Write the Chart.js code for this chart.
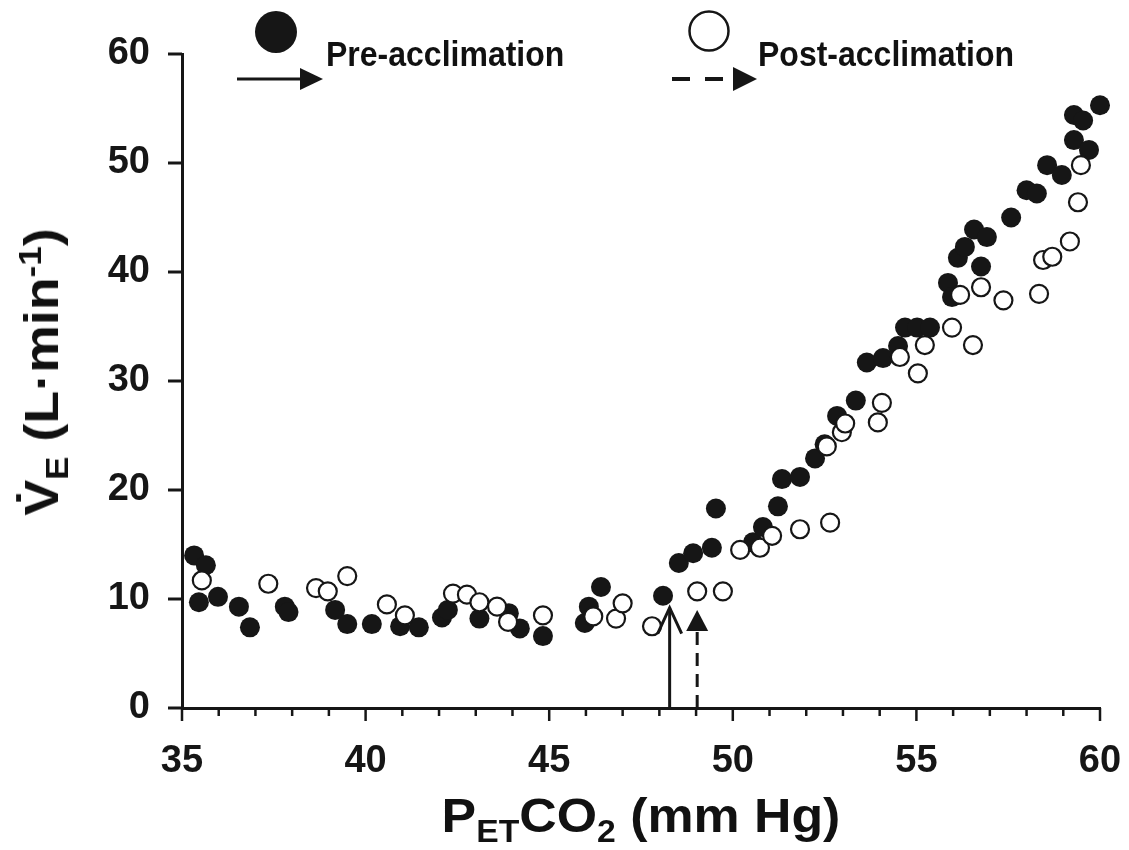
<!DOCTYPE html>
<html>
<head>
<meta charset="utf-8">
<script src="https://cdn.jsdelivr.net/npm/chart.js@4.4.0/dist/chart.umd.min.js"></script>
<style>
html, body { margin: 0; padding: 0; background: #fff; }
#wrap { position: relative; width: 1129px; height: 850px; }
.txt { position: absolute; font-family: 'Liberation Sans', Arial, sans-serif; font-weight: bold; color: #111; white-space: nowrap; }
.sub { position: relative; font-size: 0.65em; top: 0.32em; }
.sup { position: relative; font-size: 0.65em; top: -0.55em; }
#xtitle { left: 182px; width: 918px; top: 792px; font-size: 48px; line-height: 48px; text-align: center; transform: scaleX(1.08); }
#ytitle { left: 45px; top: 372px; font-size: 48px; line-height: 48px; transform: translate(-50%, -50%) rotate(-90deg) scale(1.12, 1); }
.leg { top: 38px; font-size: 32px; line-height: 32px; transform: scaleY(1.1); transform-origin: left center; }
</style>
</head>
<body>
<div id="wrap">
  <canvas id="chart"></canvas>
  <div class="txt leg" style="left:326px">Pre-acclimation</div>
  <div class="txt leg" style="left:758px">Post-acclimation</div>
  <div class="txt" id="xtitle">P<span class="sub">ET</span>CO<span class="sub">2</span> (mm Hg)</div>
  <div class="txt" id="ytitle">V&#775;<span class="sub">E</span> (L·min<span class="sup">-1</span>)</div>
</div>
<script>
// PETCO2 (mm Hg) and VE (L/min)
const preX = [35.33, 35.65, 35.46, 35.98, 36.55, 36.85, 37.8, 37.9, 39.17, 39.5,
    40.17, 40.94, 41.45, 42.08, 42.24, 43.1, 43.9, 44.2, 44.83, 45.97,
    46.08, 46.41, 48.1, 48.53, 48.92, 49.43, 49.54, 50.55, 50.82, 51.23,
    51.34, 51.83, 52.24, 52.5, 52.84, 53.35, 53.65, 54.09, 54.5, 54.69,
    55.02, 55.37, 55.86, 55.97, 56.13, 56.32, 56.57, 56.76, 56.92, 57.58,
    58.0, 58.28, 58.56, 58.96, 59.29, 59.29, 59.54, 59.7, 60.0];
const preY = [14.0, 13.1, 9.7, 10.2, 9.3, 7.4, 9.3, 8.8, 9.0, 7.7,
    7.7, 7.5, 7.4, 8.3, 9.0, 8.2, 8.7, 7.3, 6.6, 7.8,
    9.3, 11.1, 10.3, 13.3, 14.2, 14.7, 18.3, 15.2, 16.6, 18.5,
    21.0, 21.2, 22.9, 24.2, 26.8, 28.2, 31.7, 32.1, 33.2, 34.9,
    34.9, 34.9, 39.0, 37.7, 41.3, 42.3, 43.9, 40.5, 43.2, 45.0,
    47.5, 47.2, 49.8, 48.9, 52.1, 54.4, 53.9, 51.2, 55.3];

const postX = [35.54, 37.35, 38.65, 38.97, 39.5, 40.58, 41.07, 42.38, 42.76, 43.1,
    43.58, 43.88, 44.83, 46.2, 46.82, 47.0, 47.8, 49.03, 49.73, 50.2,
    50.74, 51.07, 51.83, 52.65, 52.56, 52.97, 53.06, 53.95, 54.06, 54.55,
    55.04, 55.23, 55.97, 56.19, 56.54, 56.76, 57.37, 58.34, 58.45, 58.7,
    59.18, 59.4, 59.48];
const postY = [11.7, 11.4, 11.0, 10.7, 12.1, 9.5, 8.5, 10.5, 10.4, 9.7,
    9.3, 7.9, 8.5, 8.4, 8.2, 9.6, 7.5, 10.7, 10.7, 14.5,
    14.7, 15.8, 16.4, 17.0, 24.0, 25.3, 26.1, 26.2, 28.0, 32.2,
    30.7, 33.3, 34.9, 37.9, 33.3, 38.6, 37.4, 38.0, 41.1, 41.4,
    42.8, 46.4, 49.8];

// ventilatory thresholds marked with arrows
const preThreshold = { x: 48.28, y: 9.2 };
const postThreshold = { x: 49.03, y: 9.0 };

const xTicks = [35, 40, 45, 50, 55, 60];
const yTicks = [0, 10, 20, 30, 40, 50, 60];

const ink = '#161616';

function toPoints(xs, ys) {
    return xs.map((x, i) => ({ x: x, y: ys[i] }));
}

function line(ctx, x1, y1, x2, y2) {
    ctx.beginPath();
    ctx.moveTo(x1, y1);
    ctx.lineTo(x2, y2);
    ctx.stroke();
}

// tick marks, threshold arrows and legend symbols
const decor = {
    id: 'decor',
    afterDraw(chart) {
        const ctx = chart.ctx;
        const a = chart.chartArea;
        const x = chart.scales.x;
        const y = chart.scales.y;
        ctx.save();
        ctx.strokeStyle = ink;
        ctx.fillStyle = ink;
        ctx.lineCap = 'butt';

        ctx.lineWidth = 3;
        yTicks.forEach(v => {
            const py = y.getPixelForValue(v);
            line(ctx, a.left - 14, py, a.left, py);
        });
        ctx.lineWidth = 2.5;
        for (let v = x.min; v <= x.max; v++) {
            const px = x.getPixelForValue(v);
            const len = xTicks.includes(v) ? 13 : 8;
            line(ctx, px, a.bottom, px, a.bottom + len);
        }

        // solid arrow, open head
        const base = y.getPixelForValue(0);
        let px = x.getPixelForValue(preThreshold.x);
        let tip = y.getPixelForValue(preThreshold.y);
        ctx.lineWidth = 3;
        line(ctx, px, base, px, tip);
        ctx.beginPath();
        ctx.moveTo(px - 12, tip + 26);
        ctx.lineTo(px, tip);
        ctx.lineTo(px + 12, tip + 26);
        ctx.stroke();

        // dashed arrow, filled head
        px = x.getPixelForValue(postThreshold.x);
        tip = y.getPixelForValue(postThreshold.y);
        ctx.setLineDash([13, 8]);
        line(ctx, px, base, px, tip + 20);
        ctx.setLineDash([]);
        ctx.beginPath();
        ctx.moveTo(px, tip);
        ctx.lineTo(px - 11, tip + 21);
        ctx.lineTo(px + 11, tip + 21);
        ctx.closePath();
        ctx.fill();

        // legend symbols
        ctx.beginPath();
        ctx.arc(276, 32, 21, 0, Math.PI * 2);
        ctx.fill();
        ctx.lineWidth = 2.5;
        ctx.beginPath();
        ctx.arc(709, 31, 19.5, 0, Math.PI * 2);
        ctx.stroke();

        ctx.lineWidth = 3;
        line(ctx, 237, 79, 302, 79);
        ctx.beginPath();
        ctx.moveTo(300, 68); ctx.lineTo(323, 79); ctx.lineTo(300, 90);
        ctx.closePath();
        ctx.fill();

        ctx.lineWidth = 4;
        ctx.setLineDash([18, 15]);
        line(ctx, 672, 79, 725, 79);
        ctx.setLineDash([]);
        ctx.beginPath();
        ctx.moveTo(733, 67); ctx.lineTo(757, 79); ctx.lineTo(733, 91);
        ctx.closePath();
        ctx.fill();
        ctx.restore();
    }
};

const tickFont = { family: "'Liberation Sans', Arial, sans-serif", size: 38, weight: 'bold' };

new Chart(document.getElementById('chart'), {
    type: 'scatter',
    data: {
        datasets: [{
            label: 'Pre-acclimation',
            data: toPoints(preX, preY),
            pointStyle: 'circle',
            pointRadius: 10,
            pointBorderWidth: 0,
            backgroundColor: ink,
            borderColor: ink,
            clip: false,
            order: 2
        }, {
            label: 'Post-acclimation',
            data: toPoints(postX, postY),
            pointStyle: 'circle',
            pointRadius: 9,
            pointBorderWidth: 2.2,
            backgroundColor: '#fff',
            borderColor: ink,
            clip: false,
            order: 1
        }]
    },
    options: {
        responsive: true,
        maintainAspectRatio: false,
        animation: false,
        events: [],
        layout: { padding: { top: 54, right: 29, left: 0, bottom: 0 } },
        plugins: { legend: { display: false }, tooltip: { enabled: false } },
        scales: {
            x: {
                type: 'linear',
                min: 35,
                max: 60,
                afterBuildTicks: s => { s.ticks = xTicks.map(v => ({ value: v })); },
                afterFit: s => { s.height = 142; s.paddingLeft = 0; s.paddingRight = 0; },
                grid: { display: false, drawTicks: false },
                border: { display: true, width: 3, color: ink },
                ticks: { font: tickFont, color: ink, padding: 31, maxRotation: 0 }
            },
            y: {
                min: 0,
                max: 60,
                afterBuildTicks: s => { s.ticks = yTicks.map(v => ({ value: v })); },
                afterFit: s => { s.width = 182; s.paddingTop = 0; s.paddingBottom = 0; },
                grid: { display: false, drawTicks: false },
                border: { display: true, width: 3, color: ink },
                ticks: { font: tickFont, color: ink, padding: 32 }
            }
        }
    },
    plugins: [decor]
});
</script>
</body>
</html>
